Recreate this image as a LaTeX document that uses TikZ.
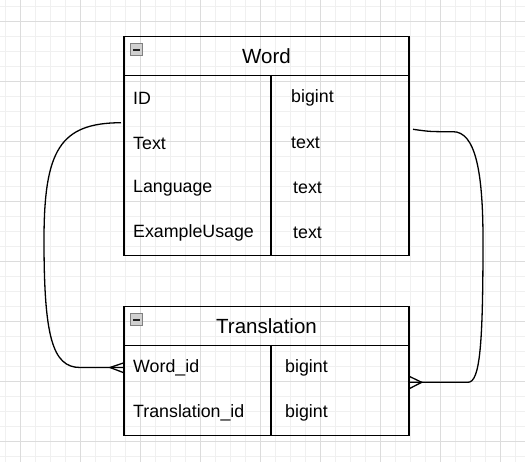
\documentclass[tikz,border=0pt]{standalone}
\usepackage{fontspec}
\setmainfont{Liberation Sans}
\usetikzlibrary{calc}
\definecolor{gridmajor}{HTML}{DCDCDC}
\definecolor{gridminor}{HTML}{F0F0F0}
\definecolor{iconfill}{HTML}{D0D0D0}
\definecolor{iconborder}{HTML}{808080}
\definecolor{iconbar}{HTML}{202020}
\begin{document}
\begin{tikzpicture}[x=1pt,y=-1pt,
  boxline/.style={draw=black,line width=1.4pt},
  hdr/.style={boxline,rectangle,minimum width=285pt,minimum height=39pt,inner sep=0pt,font=\fontsize{20.5}{24}\selectfont},
  body/.style={boxline,rectangle,minimum width=285pt,inner sep=0pt},
  cell/.style={anchor=west,inner sep=0pt,font=\fontsize{17.8}{21}\selectfont},
  icon/.style={draw=iconborder,fill=iconfill,line width=1pt,rectangle,minimum size=12.5pt,inner sep=0pt},
  conn/.style={draw=black,line width=1.3pt}]
\useasboundingbox (0,0) rectangle (525,462);
% grid
\foreach \gx in {5,20,...,525} \draw[gridminor,line width=0.6pt] (\gx,0) -- (\gx,462);
\foreach \gy in {6.7,21.7,...,462} \draw[gridminor,line width=0.6pt] (0,\gy) -- (525,\gy);
\foreach \gx in {20,80,...,525} \draw[gridmajor,line width=0.8pt] (\gx,0) -- (\gx,462);
\foreach \gy in {21.7,81.7,...,462} \draw[gridmajor,line width=0.8pt] (0,\gy) -- (525,\gy);
% Word entity
\node[hdr] (wordh) at (266.5,56.2) {Word};
\node[body,minimum height=180pt] (wordb) at (266.5,165.7) {};
\draw[boxline] (271,0 |- wordb.north) -- (271,0 |- wordb.south);
\node[icon] (wordi) at (136.7,49.7) {};
\draw[iconbar,line width=1.8pt] ($(wordi.west)+(3pt,0)$) -- ($(wordi.east)+(-3pt,0)$);
\node[cell] (w1a) at (133,98.2) {ID};
\node[cell] (w1b) at (291,98.2) {bigint};
\node[cell] (w2a) at (133,143.2) {Text};
\node[cell] (w2b) at (291,143.2) {text};
\node[cell] (w3a) at (133,188.2) {Language};
\node[cell] (w3b) at (293,188.2) {text};
\node[cell] (w4a) at (133,233.2) {ExampleUsage};
\node[cell] (w4b) at (293,233.2) {text};
% Translation entity
\node[hdr] (trh) at (266.5,326.2) {Translation};
\node[body,minimum height=90pt] (trb) at (266.5,390.7) {};
\draw[boxline] (271,0 |- trb.north) -- (271,0 |- trb.south);
\node[icon] (tri) at (136.7,319.7) {};
\draw[iconbar,line width=1.8pt] ($(tri.west)+(3pt,0)$) -- ($(tri.east)+(-3pt,0)$);
\node[cell] (t1a) at (133,368.2) {Word\_id};
\node[cell] (t1b) at (285,368.2) {bigint};
\node[cell] (t2a) at (133,413.2) {Translation\_id};
\node[cell] (t2b) at (285,413.2) {bigint};
% connector end points
\coordinate (ls) at (121,122.7);
\coordinate (lt) at (110,367.5);
\coordinate (le) at (124,367.5);
\coordinate (leu) at (124,362.8);
\coordinate (led) at (124,372.8);
\coordinate (rs) at (413,129.3);
\coordinate (rt) at (421.7,382.3);
\coordinate (re) at (410,382.3);
\coordinate (reu) at (410,376.7);
\coordinate (red) at (410,388.3);
% left connector
\draw[conn] (ls) .. controls (60,123) and (44,150) .. (44,240)
  .. controls (44,335) and (52,367.5) .. (80,367.5) -- (lt) -- (le);
\draw[conn] (leu) -- (lt) -- (led);
% right connector
\draw[conn] (rs) .. controls (430,131.7) .. (453,131.7)
  .. controls (475,131.7) and (483,170) .. (483,240)
  .. controls (483,345) and (480,382.3) .. (468,382.3) -- (rt) -- (re);
\draw[conn] (reu) -- (rt) -- (red);
\end{tikzpicture}
\end{document}
